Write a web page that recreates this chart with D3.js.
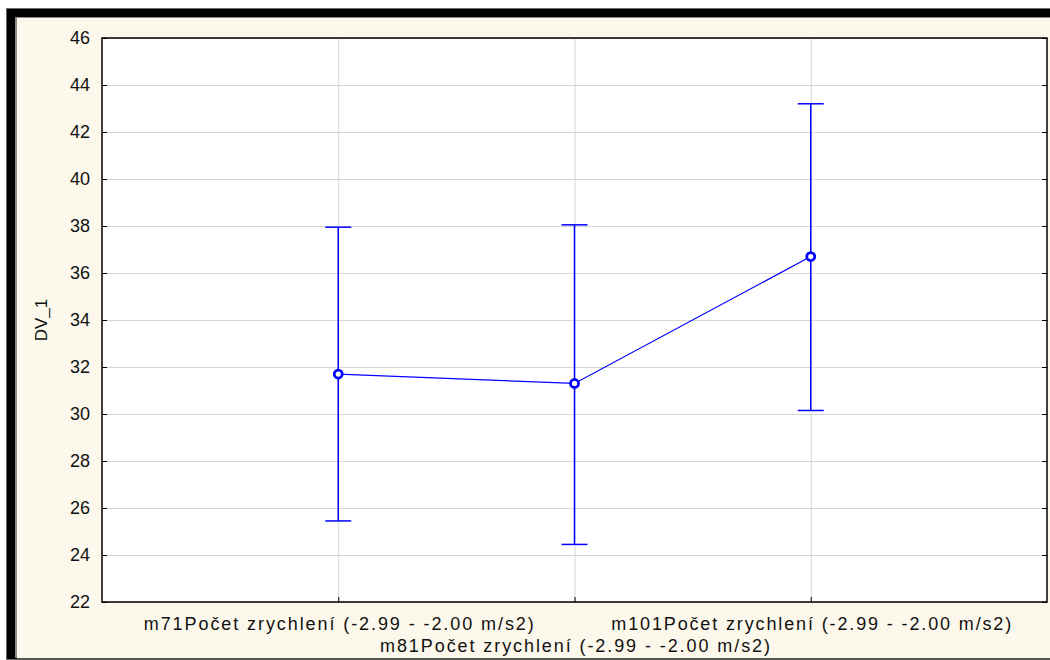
<!DOCTYPE html>
<html>
<head>
<meta charset="UTF-8">
<title>DV_1</title>
<style>
  body { margin: 0; background: #fff; }
  svg { display: block; font-family: "Liberation Sans", Arial, sans-serif; }
  .grid line { stroke: #d6d6d6; stroke-width: 1; }
  .grid path { display: none; }
  .axis path, .axis line { stroke: #000; }
  .axis text { fill: #111; font-size: 18px; }
</style>
</head>
<body>
<svg id="chart" width="1050" height="660"></svg>
<script src="https://cdn.jsdelivr.net/npm/d3@7"></script>
<script>
  "use strict";

  var categories = [
    "m71Počet zrychlení (-2.99 - -2.00 m/s2)",
    "m81Počet zrychlení (-2.99 - -2.00 m/s2)",
    "m101Počet zrychlení (-2.99 - -2.00 m/s2)"
  ];
  var means = [31.7, 31.3, 36.7];
  var upper = [37.95, 38.05, 43.2];
  var lower = [25.45, 24.45, 30.15];
  var yTicks = [22, 24, 26, 28, 30, 32, 34, 36, 38, 40, 42, 44, 46];

  var svg = d3.select("#chart"),
    pLeft = 102, pRight = 1047, pTop = 38, pBottom = 602,
    blue = "#0000ff";

  // window frame
  svg.append("rect").attr("x", 6).attr("y", 8).attr("width", 1044).attr("height", 652).attr("fill", "#6a6a6a");
  svg.append("rect").attr("x", 7).attr("y", 9).attr("width", 1043).attr("height", 650).attr("fill", "#000");
  svg.append("rect").attr("x", 15).attr("y", 17).attr("width", 1035).attr("height", 641).attr("fill", "#8a8a8a");
  svg.append("rect").attr("x", 17).attr("y", 18).attr("width", 1033).attr("height", 640).attr("fill", "#fdf8ec");
  svg.append("rect").attr("x", 17).attr("y", 658).attr("width", 1033).attr("height", 2).attr("fill", "#555");

  var x = d3.scalePoint().domain(categories).range([pLeft, pRight]).padding(1);
  var y = d3.scaleLinear().domain([22, 46]).range([pBottom, pTop]);

  svg.append("rect")
    .attr("x", pLeft).attr("y", pTop)
    .attr("width", pRight - pLeft).attr("height", pBottom - pTop)
    .attr("fill", "#fff");

  // grid
  svg.append("g").attr("class", "grid")
    .attr("transform", "translate(" + pLeft + ",0)")
    .call(d3.axisLeft(y).tickValues(yTicks).tickSize(-(pRight - pLeft)).tickFormat(""));
  svg.append("g").attr("class", "grid")
    .attr("transform", "translate(0," + pBottom + ")")
    .call(d3.axisBottom(x).tickSize(-(pBottom - pTop)).tickFormat(""));

  // axes
  svg.append("g").attr("class", "axis")
    .attr("transform", "translate(" + pLeft + ",0)")
    .call(d3.axisLeft(y).tickValues(yTicks).tickSize(-5).tickPadding(12).tickSizeOuter(0))
    .select(".domain").remove();
  svg.append("g").attr("class", "axis")
    .attr("transform", "translate(" + pRight + ",0)")
    .call(d3.axisRight(y).tickValues(yTicks).tickSize(-5).tickFormat("").tickSizeOuter(0))
    .select(".domain").remove();
  var xAxis = svg.append("g").attr("class", "axis")
    .attr("transform", "translate(0," + pBottom + ")")
    .call(d3.axisBottom(x).tickSize(-5).tickSizeOuter(0).tickPadding(15));
  xAxis.select(".domain").remove();
  xAxis.selectAll("text").style("font-size", "18px")
    .attr("textLength", function(d, i) { return i === 2 ? 400 : 390; })
    .attr("lengthAdjust", "spacing")
    .attr("dy", function(d, i) { return i === 1 ? "1.95em" : "0.71em"; });

  svg.append("rect")
    .attr("x", pLeft).attr("y", pTop)
    .attr("width", pRight - pLeft).attr("height", pBottom - pTop)
    .attr("fill", "none").attr("stroke", "#000").attr("stroke-width", 1.5);

  // y label
  svg.append("text")
    .attr("transform", "translate(47," + ((pTop + pBottom) / 2) + ") rotate(-90)")
    .attr("text-anchor", "middle")
    .style("font-size", "17px").attr("fill", "#111")
    .text("DV_1");

  // error bars
  var bars = svg.append("g").attr("stroke", blue).attr("stroke-width", 1.5);
  categories.forEach(function(c, i) {
    bars.append("line").attr("x1", x(c)).attr("x2", x(c)).attr("y1", y(upper[i])).attr("y2", y(lower[i]));
    bars.append("line").attr("x1", x(c) - 13).attr("x2", x(c) + 13).attr("y1", y(upper[i])).attr("y2", y(upper[i]));
    bars.append("line").attr("x1", x(c) - 13).attr("x2", x(c) + 13).attr("y1", y(lower[i])).attr("y2", y(lower[i]));
  });

  var line = d3.line()
    .x(function(d, i) { return x(categories[i]); })
    .y(function(d) { return y(d); });
  svg.append("path").datum(means)
    .attr("d", line).attr("fill", "none").attr("stroke", blue).attr("stroke-width", 1.2);

  svg.selectAll("circle.pt").data(means).enter().append("circle")
    .attr("class", "pt")
    .attr("cx", function(d, i) { return x(categories[i]); })
    .attr("cy", function(d) { return y(d); })
    .attr("r", 4)
    .attr("fill", "#fff").attr("stroke", blue).attr("stroke-width", 2.8);
</script>
</body>
</html>
